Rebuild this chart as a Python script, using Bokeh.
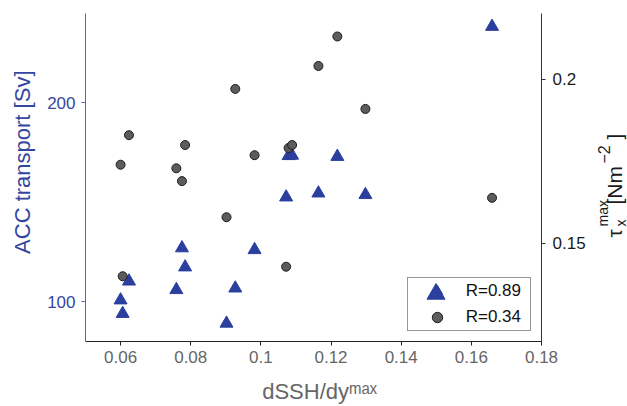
import math
from bokeh.plotting import figure
from bokeh.layouts import row
from bokeh.models import (Range1d, LinearAxis, FixedTicker, NumeralTickFormatter,
                          Legend, LegendItem, Label)
from bokeh.embed import file_html
from bokeh.resources import INLINE

# ---- data ----
dssh_dy = [0.0600, 0.0606, 0.0624, 0.0759, 0.0775, 0.0784, 0.0902, 0.0927,
           0.0982, 0.1072, 0.1079, 0.1089, 0.1164, 0.1218, 0.1298, 0.1659]
acc_transport = [100.8, 94.0, 110.3, 106.0, 127.0, 117.4, 89.1, 106.8,
                 126.1, 152.6, 173.4, 173.6, 154.6, 173.0, 153.8, 238.4]
tau_x_max = [0.1739, 0.1399, 0.1829, 0.1728, 0.1689, 0.1799, 0.1579, 0.1970,
             0.1768, 0.1428, 0.1790, 0.1799, 0.2040, 0.2130, 0.1909, 0.1638]
x_ticks = [0.06, 0.08, 0.10, 0.12, 0.14, 0.16, 0.18]
acc_ticks = [100, 200]
tau_ticks = [0.15, 0.2]
legend_labels = ["R=0.89", "R=0.34"]
NB = "\u00a0"
left_title = NB * 5 + "ACC transport [Sv]"
x_title = NB * 2 + "dSSH/dy\u1d50\u1d43\u02e3"

FONT = "Liberation Sans"
TRI_BLUE = "#2b3f9e"
AX_BLUE = "#5566b3"
TXT_BLUE = "#3446a0"
GREY_TXT = "#666666"
DARK = "#1a1a1a"

MAIN_W, H = 590, 406
F_TOP, F_BOT = 13, 343  # frame top / bottom on the page

p = figure(width=MAIN_W, height=H, output_backend="svg", toolbar_location=None,
           title=None, x_range=Range1d(0.05, 0.18), y_range=Range1d(80, 245),
           min_border_left=85, min_border_right=49, min_border_top=F_TOP,
           min_border_bottom=H - F_BOT)
p.extra_y_ranges = {"tau": Range1d(0.12, 0.22)}
p.xgrid.visible = False
p.ygrid.visible = False
p.outline_line_color = None
p.background_fill_color = "white"

# bottom axis
xa = p.xaxis[0]
xa.ticker = FixedTicker(ticks=x_ticks)
xa.formatter = NumeralTickFormatter(format="0.[00]")
xa.axis_line_color = "#222222"
xa.major_tick_line_color = "#222222"
xa.major_tick_in = 0
xa.major_tick_out = 4
xa.minor_tick_line_color = None
xa.major_label_text_color = GREY_TXT
xa.major_label_text_font = FONT
xa.major_label_text_font_size = "17px"
xa.major_label_standoff = 5
xa.axis_label = x_title
xa.axis_label_text_font = FONT
xa.axis_label_text_font_size = "22px"
xa.axis_label_text_font_style = "normal"
xa.axis_label_text_color = GREY_TXT
xa.axis_label_text_line_height = 0.85
xa.axis_label_standoff = 13

# left axis
ya = p.yaxis[0]
ya.ticker = FixedTicker(ticks=acc_ticks)
ya.axis_line_color = AX_BLUE
ya.major_tick_line_color = AX_BLUE
ya.major_tick_in = 0
ya.major_tick_out = 4
ya.minor_tick_line_color = None
ya.major_label_text_color = TXT_BLUE
ya.major_label_text_font = FONT
ya.major_label_text_font_size = "17px"
ya.major_label_standoff = 6
ya.axis_label = left_title
ya.axis_label_text_font = FONT
ya.axis_label_text_font_size = "22px"
ya.axis_label_text_font_style = "normal"
ya.axis_label_text_color = TXT_BLUE
ya.axis_label_standoff = 9

# right axis
ra = LinearAxis(y_range_name="tau", ticker=FixedTicker(ticks=tau_ticks),
                formatter=NumeralTickFormatter(format="0.[00]"))
ra.axis_line_color = "#333333"
ra.major_tick_line_color = "#333333"
ra.major_tick_in = 0
ra.major_tick_out = 4
ra.minor_tick_line_color = None
ra.major_label_text_color = DARK
ra.major_label_text_font = FONT
ra.major_label_text_font_size = "17px"
ra.major_label_standoff = 7
p.add_layout(ra, "right")

# data
r_tri = p.scatter(dssh_dy, acc_transport, marker="triangle", size=13,
                  fill_color=TRI_BLUE, line_color=TRI_BLUE)
r_cir = p.scatter(dssh_dy, tau_x_max, y_range_name="tau", marker="circle",
                  size=9, fill_color="#5c5c5c", line_color="#1e1e1e", line_width=1)

# legend box
leg = Legend(items=[LegendItem(label=legend_labels[0], renderers=[r_tri]),
                    LegendItem(label=legend_labels[1], renderers=[r_cir])],
             location=(321.7, 10.3), padding=0, margin=0, spacing=0,
             glyph_width=58, glyph_height=26, label_height=26, label_width=64,
             label_standoff=0, border_line_color="#333333", border_line_width=1,
             background_fill_color="white", background_fill_alpha=1.0,
             label_text_font=FONT, label_text_font_size="17px",
             label_text_color="#111111")
p.add_layout(leg)
# larger triangle marker drawn over the legend's first glyph
leg2 = Legend(items=[LegendItem(label=" ", renderers=[r_tri])],
              location=(328.2, 25.2), padding=0, margin=0, spacing=0,
              glyph_width=45, glyph_height=45, label_height=45, label_width=1,
              label_standoff=0, border_line_alpha=0, background_fill_alpha=0,
              label_text_alpha=0, label_text_font_size="1px")
p.add_layout(leg2)

# right-hand axis title panel: tau_x^max [Nm^-2], reading bottom to top
RW = 627 - MAIN_W
pr = figure(width=RW, height=H, output_backend="svg", toolbar_location=None,
            title=None, x_axis_type=None, y_axis_type=None,
            x_range=Range1d(0, 1), y_range=Range1d(0, 1),
            min_border_left=0, min_border_right=0, min_border_top=F_TOP,
            min_border_bottom=H - F_BOT)
pr.outline_line_color = None
pr.background_fill_color = "white"
pr.border_fill_color = "white"


def lab(text, cx, cy, size):
    # cx, cy: page pixel position of the text's baseline start
    pr.add_layout(Label(x=cx - MAIN_W, y=F_BOT - cy, x_units="screen",
                        y_units="screen", text=text, angle=math.pi / 2,
                        text_font=FONT, text_font_size=size, text_color=DARK,
                        text_align="left", text_baseline="alphabetic"))


lab("\u03c4", 614, 239, "21px")
lab("x", 620, 228, "14px")
lab("max", 602, 228, "14px")
lab("[Nm", 614, 206, "21px")
lab("\u22122", 603, 165, "16px")
lab("]", 614, 141, "21px")

layout = row(p, pr)
open("out.html", "w").write(file_html(layout, INLINE))
